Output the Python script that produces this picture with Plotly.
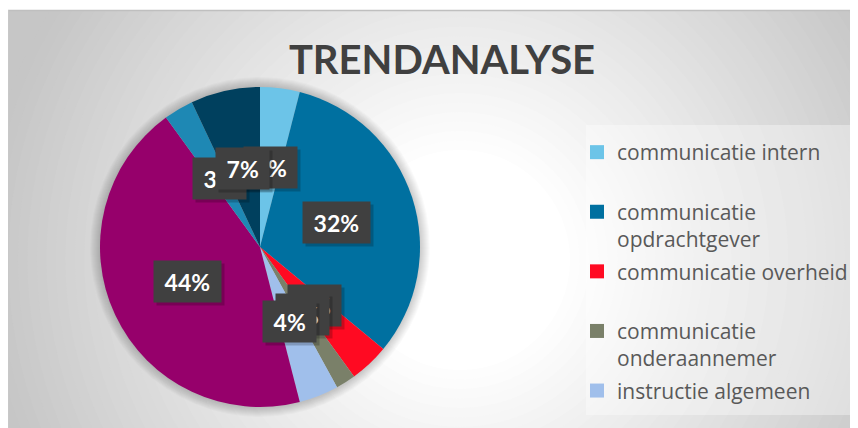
import math
import plotly.graph_objects as go

# chart data
labels = ['communicatie intern', 'communicatie opdrachtgever', 'communicatie overheid',
          'communicatie onderaannemer', 'instructie algemeen', 'overig', 'planning', 'documentatie']
values = [4, 32, 4, 2, 4, 44, 3, 7]
colors = ['#6CC4E8', '#0070A0', '#FF0A22', '#7A8069', '#A0BFEB', '#96006B', '#1E88B4', '#00405E']
legend_names = ['communicatie intern<br>\u00a0', 'communicatie<br>opdrachtgever',
                'communicatie overheid<br>\u00a0', 'communicatie<br>onderaannemer',
                'instructie algemeen']

# page body has an 8px margin, so the figure is drawn 8px in from the corner
OFF = 8
W, H = 858 - OFF, 428 - OFF
CX, CY, R = 260, 247, 160   # pie centre / radius in screen pixels


def px(x):
    return (x - OFF) / W


def py(y):
    return 1 - (y - OFF) / H


fig = go.Figure()
fig.add_trace(go.Pie(labels=labels, values=values, sort=False, direction='clockwise',
                     rotation=0, textinfo='none', showlegend=False,
                     marker=dict(colors=colors, line=dict(width=0)),
                     domain=dict(x=[px(CX - R), px(CX + R)], y=[py(CY + R), py(CY - R)])))

# legend only lists the first five categories
for i, (name, c) in enumerate(zip(legend_names, colors[:5])):
    fig.add_trace(go.Scatter(x=[None], y=[None], mode='markers', name=name, legendgroup='g%d' % i,
                             marker=dict(symbol='square', size=14, color=c)))

# background: radial grey gradient
shapes = [dict(type='rect', xref='paper', yref='paper', x0=px(8), x1=1.02, y0=-0.05, y1=py(10),
               fillcolor='#c6c6c6', line=dict(width=0), layer='below')]
gx, gy = 460, 260
n = 40
for i in range(n):
    t = i / (n - 1)
    r = 480 * (1 - t) + 110 * t
    g = int(198 + (255 - 198) * t)
    col = 'rgb(%d,%d,%d)' % (g, g, g)
    shapes.append(dict(type='circle', xref='paper', yref='paper',
                       x0=px(gx - r), x1=px(gx + r), y0=py(gy + r), y1=py(gy - r),
                       fillcolor=col, line=dict(width=0), layer='below'))
shapes.append(dict(type='rect', xref='paper', yref='paper', x0=-0.1, x1=1.1, y0=py(10), y1=1.2,
                   fillcolor='white', line=dict(width=0), layer='below'))
shapes.append(dict(type='line', xref='paper', yref='paper', x0=px(8), x1=1.02, y0=py(10.5), y1=py(10.5),
                   line=dict(color='#bfbfbf', width=1.5), layer='below'))
shapes.append(dict(type='line', xref='paper', yref='paper', x0=px(8.5), x1=px(8.5), y0=-0.05, y1=py(10),
                   line=dict(color='#c8c8c8', width=1), layer='below'))
# legend panel
shapes.append(dict(type='rect', xref='paper', yref='paper', x0=px(586), x1=1.02, y0=py(415), y1=py(125),
                   fillcolor='rgba(255,255,255,0.35)', line=dict(width=0), layer='below'))
# soft halo round the pie
for k in range(10, 0, -1):
    shapes.append(dict(type='circle', xref='paper', yref='paper',
                       x0=px(CX - R - k), x1=px(CX + R + k), y0=py(CY + R + k), y1=py(CY - R - k),
                       fillcolor='rgba(0,0,0,0.02)', line=dict(width=0), layer='below'))

# data labels in dark boxes, half-way out each slice
total = sum(values)
annotations = []
cum = 0
for v in values:
    mid = (cum + v / 2) / total * 2 * math.pi
    cum += v
    lx = CX + 0.5 * R * math.sin(mid)
    ly = CY - 0.5 * R * math.cos(mid)
    txt = '\u00a0%d%%\u00a0' % round(v / total * 100)
    common = dict(x=px(lx), y=py(ly), xref='paper', yref='paper', text=txt, showarrow=False,
                  xanchor='center', yanchor='middle', height=31, borderpad=5)
    annotations.append(dict(common, xshift=3, yshift=-3, bgcolor='rgba(0,0,0,0.2)',
                            font=dict(family='Lato', size=23, color='rgba(0,0,0,0)', weight='bold')))
    annotations.append(dict(common, bgcolor='#404040',
                            font=dict(family='Lato', size=23, color='white', weight='bold')))

fig.update_layout(
    width=W, height=H,
    margin=dict(l=0, r=0, t=0, b=0),
    paper_bgcolor='white', plot_bgcolor='rgba(0,0,0,0)',
    title=dict(text='TRENDANALYSE', x=px(442), y=py(60), xanchor='center', yanchor='middle',
               font=dict(family='Lato', size=40, color='#404040', weight='bold')),
    xaxis=dict(visible=False), yaxis=dict(visible=False),
    legend=dict(x=px(577), y=py(132), xanchor='left', yanchor='top', valign='top',
                tracegroupgap=2, bgcolor='rgba(0,0,0,0)',
                font=dict(family='Open Sans', size=21, color='#595959'),
                itemclick=False),
    shapes=shapes, annotations=annotations,
)

fig.write_html('out.html')
